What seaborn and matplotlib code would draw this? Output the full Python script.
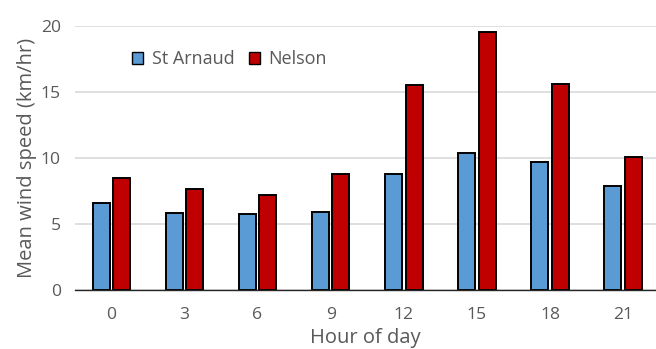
import matplotlib
matplotlib.use("Agg")
import matplotlib.pyplot as plt
import seaborn as sns
import pandas as pd

hours = ["0", "3", "6", "9", "12", "15", "18", "21"]
st_arnaud = [6.6, 5.85, 5.75, 5.9, 8.75, 10.4, 9.7, 7.9]
nelson = [8.45, 7.65, 7.2, 8.75, 15.5, 19.5, 15.6, 10.1]
series = ["St Arnaud", "Nelson"]
colors = ["#5B9BD5", "#C00000"]

df = pd.DataFrame({
    "hour": hours * 2,
    "speed": st_arnaud + nelson,
    "site": [series[0]] * len(hours) + [series[1]] * len(hours),
})

sns.set_style("white")
plt.rcParams["font.family"] = ["Open Sans", "DejaVu Sans"]
text_col = "#595959"

fig = plt.figure(figsize=(6.56, 3.49), dpi=100)
ax = fig.add_axes([0.114, 0.169, 0.886, 0.757])

sns.barplot(data=df, x="hour", y="speed", hue="site", order=hours,
            hue_order=series, palette=colors, saturation=1, width=0.56,
            gap=0.17, edgecolor="black", linewidth=1.4, errorbar=None,
            ax=ax, zorder=3)

ax.set_ylim(0, 20)
ax.set_xlim(-0.5, 7.45)
ax.set_yticks([0, 5, 10, 15, 20])
ax.yaxis.grid(True, color="#D9D9D9", linewidth=1.2, zorder=0)
ax.set_axisbelow(True)
for s in ["top", "right", "left"]:
    ax.spines[s].set_visible(False)
ax.spines["bottom"].set_color("#262626")
ax.spines["bottom"].set_linewidth(1.0)
ax.spines["bottom"].set_zorder(4)

ax.tick_params(axis="both", length=0, labelsize=12.6, colors=text_col)
ax.tick_params(axis="x", pad=12)
ax.tick_params(axis="y", pad=10)
ax.set_xlabel("Hour of day", fontsize=14.5, color=text_col, labelpad=4)
ax.set_ylabel("Mean wind speed (km/hr)", fontsize=14.5, color=text_col, labelpad=3)

leg = ax.legend(loc="upper left", bbox_to_anchor=(0.07, 0.97), ncol=2,
                frameon=False, fontsize=13, handlelength=0.65, handleheight=0.65,
                handletextpad=0.45, columnspacing=0.8, labelcolor=text_col)
for h in leg.legend_handles:
    h.set_edgecolor("black")
    h.set_linewidth(1.0)

fig.savefig("out.png", dpi=100)
